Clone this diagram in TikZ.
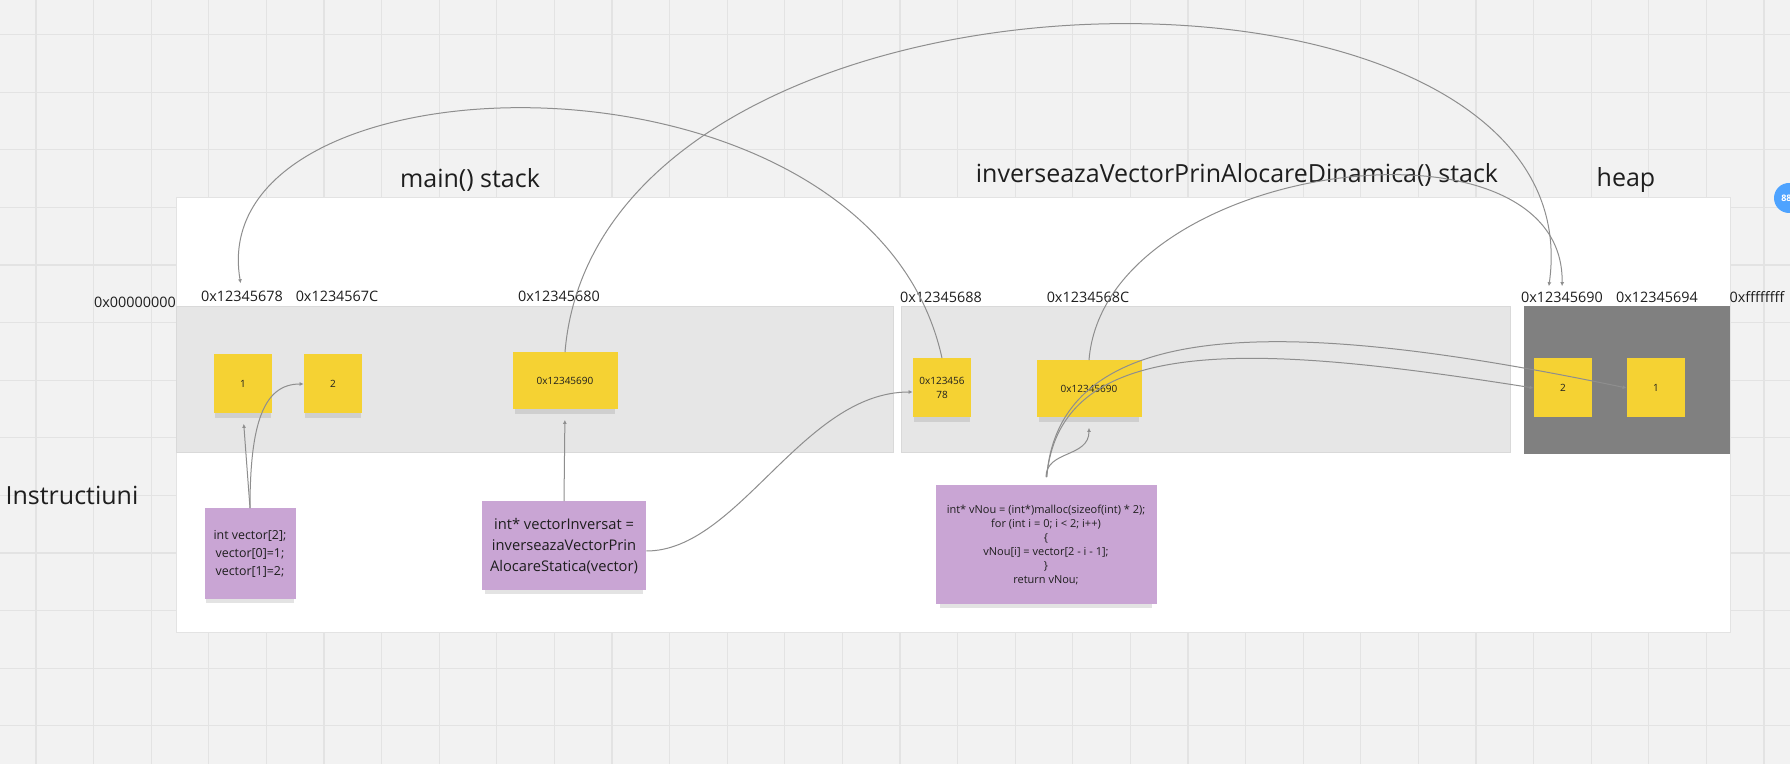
\documentclass[tikz,border=0pt]{standalone}
\usepackage{fontspec}
\setmainfont{Open Sans}
\usetikzlibrary{arrows.meta,shadows}

\definecolor{board}{HTML}{F2F2F2}
\definecolor{gridline}{HTML}{E3E3E3}
\definecolor{stackgray}{HTML}{E6E6E6}
\definecolor{stackedge}{HTML}{D9D9D9}
\definecolor{heapgray}{HTML}{808080}
\definecolor{sticky}{HTML}{F5D233}
\definecolor{lilac}{HTML}{C9A5D4}
\definecolor{wirec}{HTML}{8E8E8E}
\definecolor{avatar}{HTML}{4EA3FF}
\definecolor{ink}{HTML}{1E1E1E}

\tikzset{
  note/.style={fill=sticky, inner sep=0pt, minimum width=29pt, minimum height=29.5pt,
    align=center, text=ink, font=\fontsize{5}{7}\selectfont,
    drop shadow={shadow xshift=0pt, shadow yshift=-3pt, shadow scale=.96, opacity=.22}},
  wide/.style={minimum width=52.5pt, minimum height=28.5pt},
  code/.style={fill=lilac, inner sep=0pt, align=center, text=ink,
    font=\fontsize{7}{8.5}\selectfont,
    drop shadow={shadow xshift=0pt, shadow yshift=-3pt, shadow scale=.96, opacity=.22}},
  addr/.style={anchor=base, inner sep=0pt, text=ink, font=\fontsize{7.2}{8}\selectfont},
  title/.style={anchor=base, inner sep=0pt, text=ink, font=\fontsize{12.5}{15}\selectfont},
  link/.style={draw=wirec, line width=.5pt, -{Latex[length=2pt,width=2pt]}}
}

\begin{document}
\begin{tikzpicture}[x=0.5pt,y=-0.5pt]
  \useasboundingbox (0,0) rectangle (1790,764);
  \fill[board] (0,0) rectangle (1790,764);
  \foreach \i in {0,...,30}
    \draw[gridline, line width=.6pt] ({36+57.6*\i},0) -- ({36+57.6*\i},764);
  \foreach \j in {0,...,12}
    \draw[gridline, line width=.6pt] (0,{34.6+57.6*\j}) -- (1790,{34.6+57.6*\j});

  \filldraw[fill=white, draw=gridline] (176,197) rectangle (1730,632);
  \filldraw[fill=stackgray, draw=stackedge] (176,306) rectangle (893,452);
  \filldraw[fill=stackgray, draw=stackedge] (901,306) rectangle (1510,452);
  \fill[heapgray] (1524,306) rectangle (1730,454);

  \node[circle, fill=avatar, minimum size=15pt, inner sep=0pt, text=white,
    font=\bfseries\fontsize{4.5}{5}\selectfont] (c) at (1789,198) {881};

  \begin{scope}[every node/.style={title}]
    \node (t1) at (470,188) {main() stack};
    \node (t2) at (1237,183) {inverseazaVectorPrinAlocareDinamica() stack};
    \node (t3) at (1626,187) {heap};
    \node (t4) at (72,505) {Instructiuni};
  \end{scope}

  \begin{scope}[every node/.style={addr}]
    \node (l0) at (135,308) {0x00000000};
    \node (l1) at (242,302) {0x12345678};
    \node (l2) at (337,302) {0x1234567C};
    \node (l3) at (559,302) {0x12345680};
    \node (l4) at (941,303) {0x12345688};
    \node (l5) at (1088,303) {0x1234568C};
    \node (l6) at (1562,303) {0x12345690};
    \node (l7) at (1657,303) {0x12345694};
    \node (l8) at (1757,303) {0xffffffff};
  \end{scope}

  \begin{scope}[every node/.style={note}]
    \node (1) at (243,384) {1};
    \node (2) at (333,384) {2};
    \node[wide] (3) at (565,381) {0x12345690};
    \node (4) at (942,388) {0x123456\\78};
    \node[wide] (5) at (1089,389) {0x12345690};
    \node (6) at (1563,388) {2};
    \node (7) at (1656,388) {1};
  \end{scope}

  \begin{scope}[every node/.style={code}]
    \node[minimum width=45.5pt, minimum height=45.5pt, font=\fontsize{6.2}{9}\selectfont] (8) at (250,554)
      {int vector[2];\\vector[0]=1;\\vector[1]=2;};
    \node[minimum width=82pt, minimum height=44.5pt, font=\fontsize{7.35}{10.5}\selectfont] (9) at (564,546)
      {int* vectorInversat =\\inverseazaVectorPrin\\AlocareStatica(vector)};
    \node[minimum width=110.5pt, minimum height=59.5pt, font=\fontsize{5.5}{7}\selectfont] (10) at (1046,545)
      {int* vNou = (int*)malloc(sizeof(int) * 2);\\for (int i = 0; i {\textless} 2; i++)\\\{\\vNou[i] = vector[2 - i - 1];\\\}\\return vNou;};
  \end{scope}

  \begin{scope}[every edge/.style={link}]
    \path (8.north) edge[shorten >=5pt] (1.south);
    \path (9.north) edge[shorten >=5pt] (3.south);
  \end{scope}

  \draw[link] (8.north) .. controls +(0,-85) and +(-40,0) .. (2.west);
  \draw[link] ([yshift=-2.5pt]9.east) .. controls +(92,0) and +(-110,0) .. ([yshift=-2pt]4.west);
  \draw[link, shorten >=3pt] (3.north) .. controls +(35,-422) and +(52,-369) .. ([xshift=-7pt]l6.north);
  \draw[link, shorten >=3pt] (5.north) .. controls +(16,-200) and +(3,-189) .. (l6.north);
  \draw[link, shorten >=4pt] (4.north) .. controls +(-72,-328) and +(-42,-245) .. (l1.north);
  \draw[link, shorten <=4pt, shorten >=5pt] (10.north) .. controls +(0,-35) and +(0,40) .. (5.south);
  \draw[link, shorten <=4pt] (10.north) .. controls +(14,-175) and +(-326,-68) .. (7.west);
  \draw[link, shorten <=4pt] (10.north) .. controls +(14,-155) and +(-273,-43) .. (6.west);

\end{tikzpicture}
\end{document}
